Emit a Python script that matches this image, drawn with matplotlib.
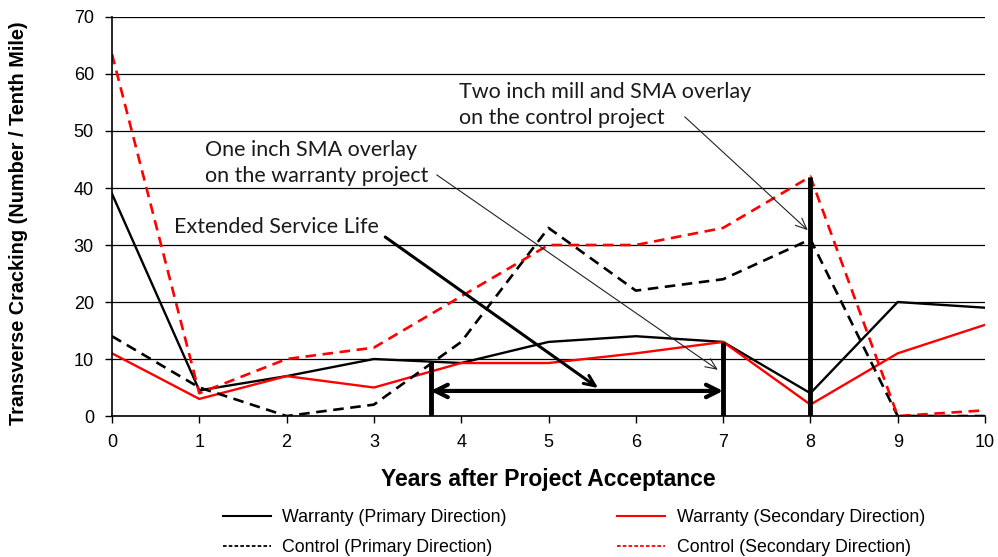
import matplotlib
matplotlib.use("Agg")
import matplotlib.pyplot as plt
from matplotlib.lines import Line2D

# years after acceptance
years = [0, 1, 2, 3, 4, 5, 6, 7, 8, 9, 10]

# transverse cracks per tenth mile
warranty_primary = [39, 4.5, 7, 10, 9.3, 13, 14, 13, 4, 20, 19]
warranty_secondary = [11, 3, 7, 5, 9.3, 9.3, 11, 13, 2, 11, 16]
control_primary = [14, 5, 0, 2, 13, 33, 22, 24, 31, 0, 0]
control_secondary = [63.5, 4, 10, 12, 21, 30, 30, 33, 42, 0, 1]

labels = ["Warranty (Primary Direction)", "Warranty (Secondary Direction)",
          "Control (Primary Direction)", "Control (Secondary Direction)"]

# overlay markers and service life span
service_start = 3.65
service_end = 7
overlay_warranty = 7
overlay_control = 8

plt.rcParams['font.family'] = ['Liberation Sans', 'DejaVu Sans']

fig = plt.figure(figsize=(9.98, 5.57), dpi=100)
ax = fig.add_axes([0.1122, 0.2531, 0.8748, 0.7164])

ax.set_xlim(0, 10)
ax.set_ylim(0, 70)
ax.set_xticks(years)
ax.set_yticks(range(0, 71, 10))
ax.tick_params(direction='out', length=5, width=1, labelsize=13, pad=8, colors='black')
ax.yaxis.grid(True, color='black', linewidth=0.9)
ax.set_axisbelow(True)
for s in ['top', 'right']:
    ax.spines[s].set_visible(False)
for s in ['left', 'bottom']:
    ax.spines[s].set_linewidth(1.2)

dash = (0, (4, 2.5))
ax.plot(years, warranty_primary, color='black', lw=1.7)
ax.plot(years, warranty_secondary, color='red', lw=1.7)
ax.plot(years, control_primary, color='black', lw=1.9, ls=dash)
ax.plot(years, control_secondary, color='red', lw=1.9, ls=dash)

# thick vertical bars
ax.plot([service_start, service_start], [0, 9.5], color='black', lw=3.5, solid_capstyle='butt')
ax.plot([overlay_warranty, overlay_warranty], [0, 13], color='black', lw=3.5, solid_capstyle='butt')
ax.plot([overlay_control, overlay_control], [0, 42], color='black', lw=3.5, solid_capstyle='butt')

# double arrow for extended service life
ax.annotate('', xy=(service_start, 4.4), xytext=(service_end, 4.4),
            arrowprops=dict(arrowstyle='<->,head_length=0.9,head_width=0.45', lw=3, color='black',
                            shrinkA=0, shrinkB=0))

tfont = dict(family=['Lato', 'DejaVu Sans'], fontsize=15.5, color='#1a1a1a')

ax.text(0.71, 33.2, "Extended Service Life", ha='left', va='center', **tfont)
ax.annotate('', xy=(5.57, 4.9), xytext=(3.13, 31.4),
            arrowprops=dict(arrowstyle='->,head_length=0.8,head_width=0.35', lw=2.2, color='black',
                            shrinkA=0, shrinkB=0))

ax.text(1.06, 44.4, "One inch SMA overlay\non the warranty project", ha='left', va='center',
        linespacing=1.4, **tfont)
ax.annotate('', xy=(6.94, 8.1), xytext=(3.72, 42.3),
            arrowprops=dict(arrowstyle='->,head_length=0.8,head_width=0.35', lw=0.8, color='#222222',
                            shrinkA=0, shrinkB=0))

ax.text(3.98, 54.6, "Two inch mill and SMA overlay\non the control project", ha='left', va='center',
        linespacing=1.4, **tfont)
ax.annotate('', xy=(7.97, 32.6), xytext=(6.56, 52.5),
            arrowprops=dict(arrowstyle='->,head_length=0.8,head_width=0.35', lw=0.8, color='#222222',
                            shrinkA=0, shrinkB=0))

ax.set_xlabel("Years after Project Acceptance", fontsize=16.5, fontweight='bold', labelpad=12)
ax.set_ylabel("Transverse Cracking (Number / Tenth Mile)", fontsize=14.3, fontweight='bold')
ax.yaxis.set_label_coords(-0.096, 0.483)

# legend handles with the finer dash used in the key
fine = (0, (2, 1.2))
handles = [Line2D([], [], color='black', lw=1.5),
           Line2D([], [], color='black', lw=1.3, ls=fine),
           Line2D([], [], color='red', lw=1.5),
           Line2D([], [], color='red', lw=1.3, ls=fine)]
order = [labels[0], labels[2], labels[1], labels[3]]
fig.legend(handles=handles, labels=order, loc='center', bbox_to_anchor=(0.575, 0.044), ncol=2,
           frameon=False, fontsize=12.8, handlelength=2.7, columnspacing=6.2, labelspacing=0.72,
           handletextpad=0.65)

fig.savefig("out.png", dpi=100)
